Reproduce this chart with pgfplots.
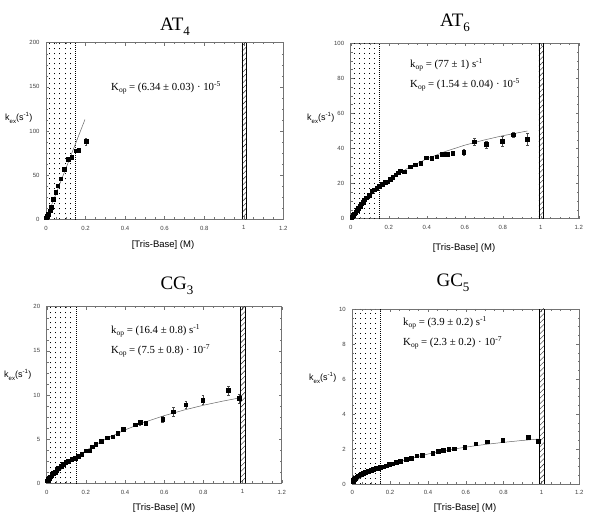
\documentclass[border=0pt]{standalone}
\usepackage{pgfplots}
\pgfplotsset{compat=1.18}
\usepackage{pgfplotstable}
\usepackage{fontspec}
\setmainfont{Liberation Sans}
\newfontfamily\tms{Liberation Serif}
\usetikzlibrary{patterns.meta}

\pgfplotstableread{
x y e
0.003 1.8 0
0.008 4 0
0.012 6 0
0.02 9.7 0
0.025 13.6 0
0.037 23 0
0.049 31 0
0.059 38 0
0.074 46 0
0.091 56.6 0
0.111 68 0
0.13 70 0
0.15 77.7 0
0.165 78.5 0
0.202 88 4
}\datAT
\pgfplotstableread{
x y
0 0
0.197 113
}\fitAT

\pgfplotstableread{
x y e
0.005 0.8 0
0.012 1.8 0
0.019 2.8 0
0.026 3.9 0
0.033 5.0 0
0.040 6.1 0
0.048 7.3 0
0.056 8.5 0
0.064 9.6 0
0.073 10.8 0
0.083 12.0 0
0.096 13.5 0
0.110 15.5 0
0.125 16.5 0
0.137 17.3 0
0.151 18.4 0
0.167 19.6 0
0.180 20.7 0
0.195 21.1 0
0.209 22.4 0
0.221 23.6 0
0.237 25.1 0
0.251 26.2 0
0.261 27.4 0
0.282 26.8 0
0.312 29.7 0
0.339 30.8 0
0.368 31.7 0
0.396 34.8 0
0.426 34.6 0
0.453 35.4 0
0.480 36.7 0
0.509 36.9 0
0.537 37.3 0
0.595 38.0 1.8
0.651 43.9 2.0
0.714 42.4 2.0
0.798 44.1 3.0
0.856 47.9 1.2
0.930 45.2 3.5
}\datATs
\pgfplotstableread{
x y
0 0
0.05 6.97
0.1 12.8
0.15 17.7
0.2 21.9
0.3 28.8
0.4 34.1
0.5 38.4
0.6 41.9
0.7 44.8
0.8 47.3
0.93 50.0
}\fitATs

\pgfplotstableread{
x y e
0.003 0.3 0
0.008 0.45 0
0.013 0.6 0
0.019 0.75 0
0.026 0.94 0
0.034 1.13 0
0.042 1.3 0
0.051 1.5 0
0.06 1.7 0
0.072 1.9 0
0.085 2.15 0
0.097 2.35 0
0.11 2.5 0
0.128 2.7 0
0.145 2.87 0
0.162 3.1 0
0.179 3.3 0
0.2 3.7 0
0.216 3.7 0
0.233 4.15 0
0.25 4.4 0
0.277 4.8 0
0.31 5.17 0
0.337 5.28 0
0.363 5.66 0
0.391 6.1 0
0.451 6.64 0.15
0.477 6.9 0.3
0.506 6.83 0.15
0.592 7.28 0.35
0.647 8.1 0.55
0.71 8.9 0.4
0.797 9.43 0.5
0.928 10.5 0.55
0.982 9.6 0.5
}\datCG
\pgfplotstableread{
x y
0 0
0.05 1.12
0.1 2.09
0.2 3.71
0.3 5.0
0.4 6.05
0.5 6.92
0.6 7.66
0.7 8.29
0.8 8.84
0.9 9.31
0.99 9.69
}\fitCG

\pgfplotstableread{
x y e
0.002 0.13 0
0.005 0.2 0
0.01 0.27 0
0.016 0.33 0
0.023 0.42 0
0.03 0.47 0
0.04 0.53 0
0.049 0.57 0
0.058 0.62 0
0.07 0.69 0
0.085 0.74 0
0.1 0.8 0
0.111 0.85 0
0.125 0.88 0
0.138 0.92 0
0.146 0.94 0
0.164 0.99 0
0.178 1.05 0
0.196 1.14 0
0.213 1.16 0
0.234 1.26 0
0.252 1.3 0
0.284 1.41 0
0.31 1.47 0
0.34 1.62 0
0.37 1.66 0
0.425 1.77 0
0.455 1.89 0
0.48 1.93 0
0.51 2.0 0
0.537 2.02 0
0.594 2.12 0
0.652 2.3 0
0.715 2.42 0
0.795 2.5 0
0.93 2.69 0.1
0.983 2.44 0.12
}\datGC
\pgfplotstableread{
x y
0 0
0.05 0.40
0.1 0.68
0.15 0.9
0.2 1.098
0.3 1.444
0.4 1.713
0.5 1.93
0.6 2.108
0.7 2.256
0.8 2.381
0.9 2.489
0.99 2.574
}\fitGC

\pgfplotsset{
  panel/.style={
    scale only axis, anchor=south west,
    xmin=0, xmax=1.2, ymin=0,
    xtick={0,0.2,0.4,0.6,0.8,1,1.2},
    minor x tick num=3, minor y tick num=3,
    tick align=inside,
    xtick pos=both, ytick pos=both,
    axis line style={black!55, line width=0.5pt},
    every tick/.style={black!55, line width=0.4pt},
    major tick length=3pt, minor tick length=1.8pt,
    tick label style={font=\fontsize{6}{6}\selectfont, text=black!75},
    xticklabel style={yshift=-3pt},
    yticklabel style={xshift=-3pt},
    /pgf/number format/assume math mode=true,
    scaled y ticks=false,
  },
  pts/.style={only marks, mark=square*, mark size=1.9pt, black,
    error bars/.cd, y dir=both, y explicit,
    error bar style={black!70, line width=0.4pt},
    error mark options={rotate=90, mark size=1.2pt, black!70}},
  fitl/.style={no marks, black!60, line width=0.5pt},
}

\newcommand\bands[1]{%
  \draw[black, line width=0.9pt, dash pattern=on 0.9pt off 4.1pt]
    (axis cs:0.018,0) -- (axis cs:0.018,#1)
    (axis cs:0.044,0) -- (axis cs:0.044,#1)
    (axis cs:0.070,0) -- (axis cs:0.070,#1)
    (axis cs:0.097,0) -- (axis cs:0.097,#1)
    (axis cs:0.123,0) -- (axis cs:0.123,#1);
  \draw[black, line width=0.5pt, dash pattern=on 0.7pt off 1.3pt] (axis cs:0.15,0) -- (axis cs:0.15,#1);
  \fill[pattern={Lines[angle=45, distance=3.8pt, line width=0.4pt]}, pattern color=black!85] (axis cs:0.99,0) rectangle (axis cs:1.015,#1);
  \draw[black, line width=0.5pt] (axis cs:0.99,0) -- (axis cs:0.99,#1) (axis cs:1.015,0) -- (axis cs:1.015,#1);
}

\begin{document}
\begin{tikzpicture}
\path[use as bounding box] (0pt,0pt) rectangle (600pt,519pt);

% AT4
\begin{axis}[panel, at={(46pt,299.7pt)}, width=237.3pt, height=176.6pt,
  ymax=200, ytick={0,50,100,150,200}]
\bands{200}
\addplot[fitl] table {\fitAT};
\addplot[pts] table[x=x, y=y, y error=e] {\datAT};
\end{axis}

% AT6
\begin{axis}[panel, at={(350.7pt,300.3pt)}, width=228pt, height=175.4pt,
  ymax=100, ytick={0,20,40,60,80,100}]
\bands{100}
\addplot[fitl] table {\fitATs};
\addplot[pts] table[x=x, y=y, y error=e] {\datATs};
\end{axis}

% CG3
\begin{axis}[panel, at={(46.7pt,35.7pt)}, width=235pt, height=176.6pt,
  ymax=20, ytick={0,5,10,15,20}]
\bands{20}
\addplot[fitl] table {\fitCG};
\addplot[pts] table[x=x, y=y, y error=e] {\datCG};
\end{axis}

% GC5
\begin{axis}[panel, at={(352.3pt,35pt)}, width=227pt, height=175pt,
  ymax=10, ytick={0,2,4,6,8,10}]
\bands{10}
\addplot[fitl] table {\fitGC};
\addplot[pts] table[x=x, y=y, y error=e] {\datGC};
\end{axis}

% titles
\newcommand\ttl[2]{{\tms\fontsize{19}{19}\selectfont #1\raisebox{-5pt}{\fontsize{13}{13}\selectfont #2}}}
\node at (175pt,492pt) {\ttl{AT}{4}};
\node at (455pt,496pt) {\ttl{AT}{6}};
\node at (177pt,233pt) {\ttl{CG}{3}};
\node at (453pt,236pt) {\ttl{GC}{5}};

% y labels
\newcommand\ylab{{\fontsize{9}{9}\selectfont k\raisebox{-3pt}{\fontsize{6}{6}\selectfont ex}(s\textsuperscript{-1})}}
\node[anchor=west, inner sep=0pt] at (5pt,401pt) {\ylab};
\node[anchor=west, inner sep=0pt] at (307pt,401pt) {\ylab};
\node[anchor=west, inner sep=0pt] at (4pt,144pt) {\ylab};
\node[anchor=west, inner sep=0pt] at (309pt,141pt) {\ylab};

% x labels
\newcommand\xlab{{\fontsize{9.5}{9.5}\selectfont [Tris-Base] (M)}}
\node at (163pt,274pt) {\xlab};
\node at (464pt,271pt) {\xlab};
\node at (164pt,11pt) {\xlab};
\node at (465pt,11pt) {\xlab};

% annotations
\newcommand\ann[1]{{\tms\fontsize{10.8}{10.8}\selectfont #1}}
\newcommand\sbop{\raisebox{-2.5pt}{\fontsize{7.5}{7.5}\selectfont op}}
\node[anchor=west, inner sep=0pt] at (111pt,431pt) {\ann{K\sbop{} = (6.34 ± 0.03) · 10\textsuperscript{-5}}};
\node[anchor=west, inner sep=0pt] at (410pt,454pt) {\ann{k\sbop{} = (77 ± 1) s\textsuperscript{-1}}};
\node[anchor=west, inner sep=0pt] at (410pt,434pt) {\ann{K\sbop{} = (1.54 ± 0.04) · 10\textsuperscript{-5}}};
\node[anchor=west, inner sep=0pt] at (111pt,188pt) {\ann{k\sbop{} = (16.4 ± 0.8) s\textsuperscript{-1}}};
\node[anchor=west, inner sep=0pt] at (111pt,168pt) {\ann{K\sbop{} = (7.5 ± 0.8) · 10\textsuperscript{-7}}};
\node[anchor=west, inner sep=0pt] at (403pt,196pt) {\ann{k\sbop{} = (3.9 ± 0.2) s\textsuperscript{-1}}};
\node[anchor=west, inner sep=0pt] at (403pt,176pt) {\ann{K\sbop{} = (2.3 ± 0.2) · 10\textsuperscript{-7}}};
\end{tikzpicture}
\end{document}
